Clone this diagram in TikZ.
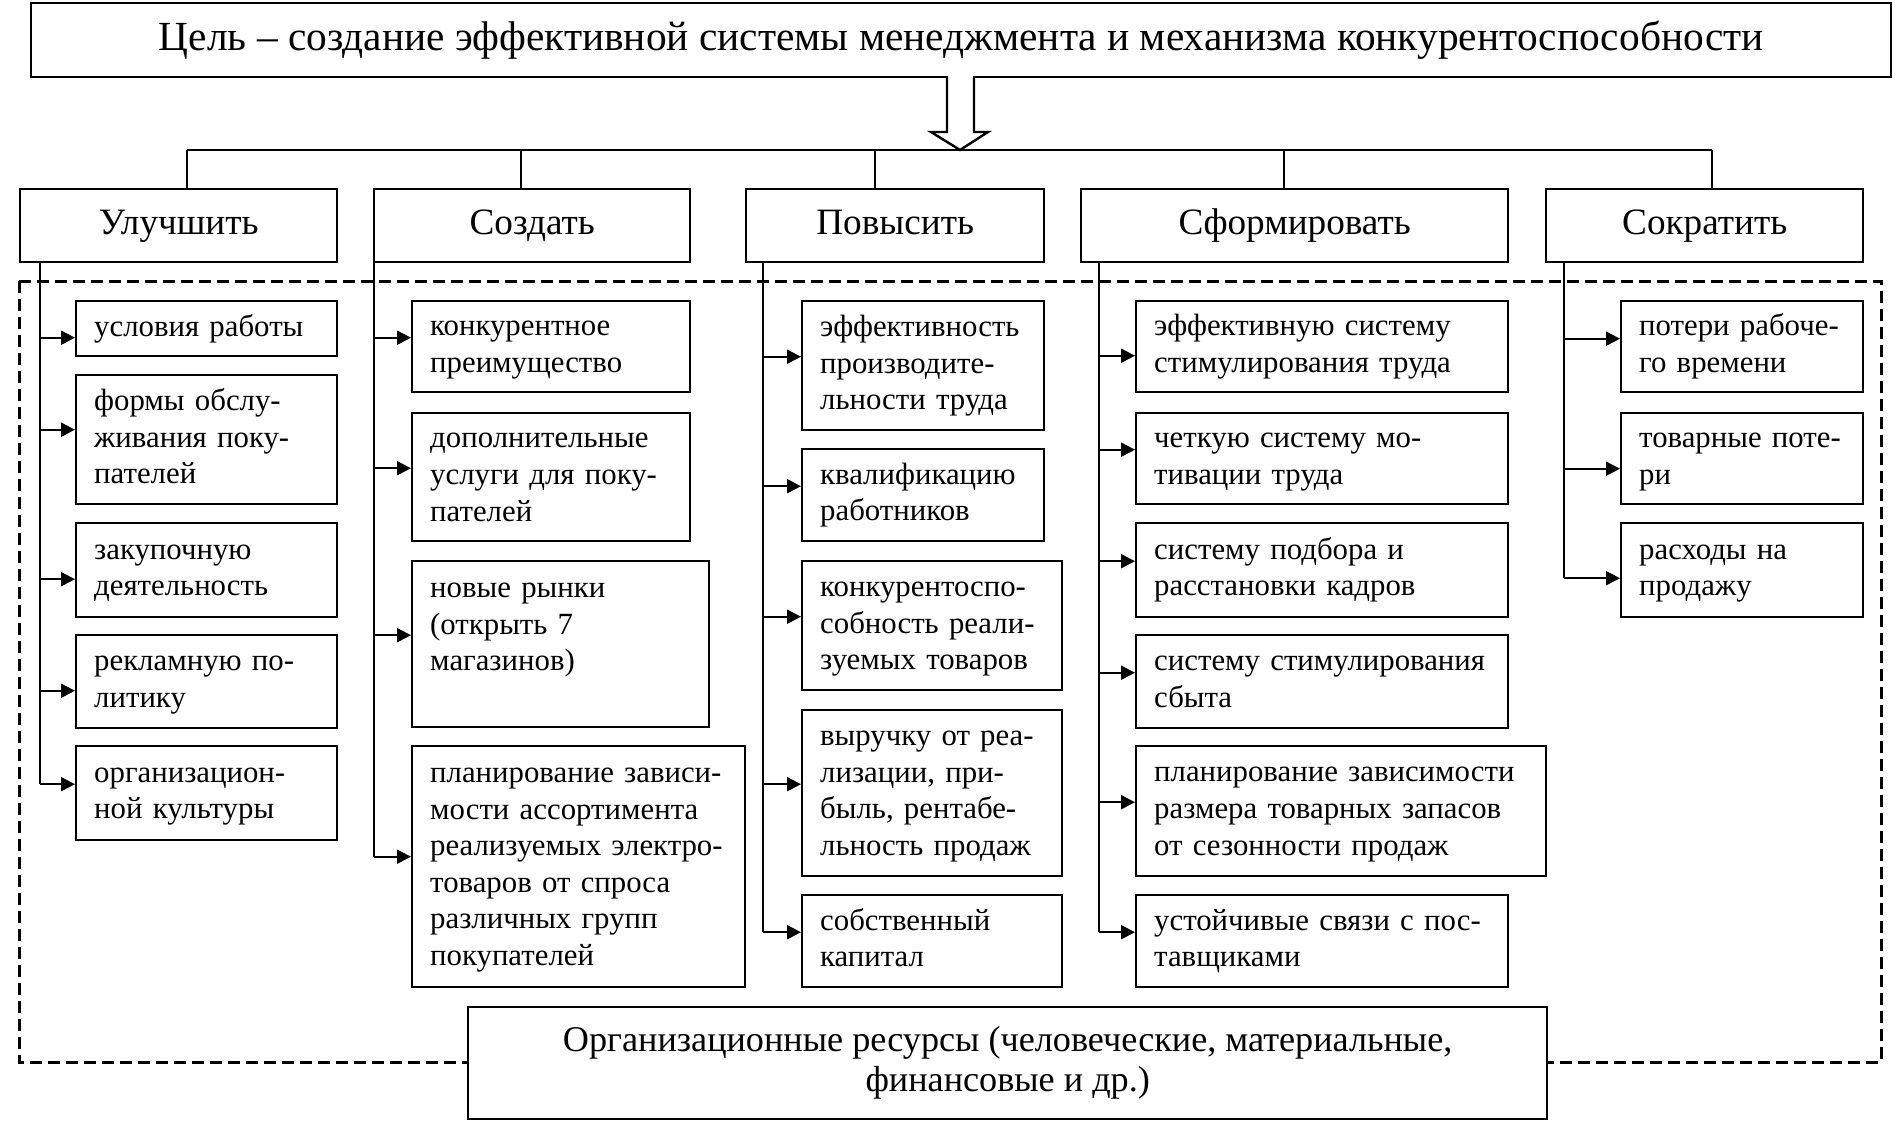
\documentclass[tikz,border=0pt]{standalone}
\usepackage{fontspec}
\setmainfont{Liberation Serif}
\usetikzlibrary{arrows.meta}

\begin{document}
\begin{tikzpicture}[x=0.5pt,y=-0.5pt]

\tikzstyle{goal} = [rectangle, draw=black, line width=1.2pt, anchor=north west, minimum width=930pt, minimum height=37pt, font=\fontsize{20.7}{24}\selectfont]
\tikzstyle{head} = [rectangle, draw=black, line width=1.2pt, anchor=north west, minimum height=36.5pt, execute at begin node=\strut, font=\fontsize{18.6}{22}\selectfont]
\tikzstyle{leaf} = [rectangle, draw=black, line width=1.2pt, anchor=north west, align=left, inner xsep=9pt, inner ysep=3pt, execute at begin node=\strut, execute at end node=\strut, font=\fontsize{15.4}{18.3}\selectfont]
\tikzstyle{res} = [rectangle, draw=black, line width=1.2pt, anchor=north west, fill=white, align=center, font=\fontsize{18.1}{20}\selectfont]
\tikzstyle{arr} = [line width=1pt, -{Triangle[length=7pt,width=7pt]}]

    \useasboundingbox (0,0) rectangle (1900,1136);

    % resources frame
    \draw[line width=1.5pt, dash pattern=on 6pt off 3pt] (19,281) rectangle (1881,1062);

    \node [goal] (goal) at (30,2) {Цель -- создание эффективной системы менеджмента и механизма конкурентоспособности};
    \draw[line width=1.2pt, fill=white] (947,76) -- (947,132) -- (931,132) -- (960,150) -- (988,132) -- (974,132) -- (974,76);

    \node [head, minimum width=158.5pt] (c1) at (19,188) {Улучшить};
    \node [head, minimum width=158pt] (c2) at (373,188) {Создать};
    \node [head, minimum width=149pt] (c3) at (745,188) {Повысить};
    \node [head, minimum width=213.5pt] (c4) at (1080,188) {Сформировать};
    \node [head, minimum width=158.5pt] (c5) at (1545,188) {Сократить};

    \coordinate (b1) at (187,150);
    \coordinate (b2) at (521,150);
    \coordinate (b3) at (875,150);
    \coordinate (b4) at (1284,150);
    \coordinate (b5) at (1712,150);
    \draw[line width=1pt] (b1) -- (b5);
    \foreach \i in {1,...,5}
        \draw[line width=1pt] (b\i) -- (b\i |- c\i.north);

    % Улучшить
    \node [leaf, minimum width=130.5pt, minimum height=27.5pt, text width=112.5pt] (l11) at (75,300) {условия работы};
    \node [leaf, minimum width=130.5pt, minimum height=64.5pt, text width=112.5pt] (l12) at (75,374) {формы обслу-\\живания поку-\\пателей};
    \node [leaf, minimum width=130.5pt, minimum height=47pt, text width=112.5pt] (l13) at (75,522) {закупочную\\деятельность};
    \node [leaf, minimum width=130.5pt, minimum height=46.5pt, text width=112.5pt] (l14) at (75,634) {рекламную по-\\литику};
    \node [leaf, minimum width=130.5pt, minimum height=47pt, text width=112.5pt] (l15) at (75,745) {организацион-\\ной культуры};

    % Создать
    \node [leaf, minimum width=139pt, minimum height=45.5pt, text width=121pt] (l21) at (411,300) {конкурентное\\преимущество};
    \node [leaf, minimum width=139pt, minimum height=64pt, text width=121pt] (l22) at (411,412) {дополнительные\\услуги для поку-\\пателей};
    \node [leaf, minimum width=148.5pt, minimum height=83pt, text width=130.5pt, text depth=59.5pt] (l23) at (411,560) {новые рынки\\(открыть 7\\магазинов)};
    \node [leaf, minimum width=166.5pt, minimum height=120.5pt, text width=148.5pt] (l24) at (411,745) {планирование зависи-\\мости ассортимента\\реализуемых электро-\\товаров от спроса\\различных групп\\покупателей};

    % Повысить
    \node [leaf, minimum width=121pt, minimum height=64.5pt, text width=103pt] (l31) at (801,300) {эффективность\\производите-\\льности труда};
    \node [leaf, minimum width=121pt, minimum height=46pt, text width=103pt] (l32) at (801,448) {квалификацию\\работников};
    \node [leaf, minimum width=130pt, minimum height=64.5pt, text width=112pt] (l33) at (801,560) {конкурентоспо-\\собность реали-\\зуемых товаров};
    \node [leaf, minimum width=130pt, minimum height=83pt, text width=112pt] (l34) at (801,709) {выручку от реа-\\лизации, при-\\быль, рентабе-\\льность продаж};
    \node [leaf, minimum width=130pt, minimum height=46pt, text width=112pt] (l35) at (801,894) {собственный\\капитал};

    % Сформировать
    \node [leaf, minimum width=186pt, minimum height=45.5pt, text width=168pt] (l41) at (1135,300) {эффективную систему\\стимулирования труда};
    \node [leaf, minimum width=186pt, minimum height=45.5pt, text width=168pt] (l42) at (1135,412) {четкую систему мо-\\тивации труда};
    \node [leaf, minimum width=186pt, minimum height=47pt, text width=168pt] (l43) at (1135,522) {систему подбора и\\расстановки кадров};
    \node [leaf, minimum width=186pt, minimum height=46.5pt, text width=168pt] (l44) at (1135,634) {систему стимулирования\\сбыта};
    \node [leaf, minimum width=205pt, minimum height=65pt, text width=187pt] (l45) at (1135,745) {планирование зависимости\\размера товарных запасов\\от сезонности продаж};
    \node [leaf, minimum width=186pt, minimum height=46pt, text width=168pt] (l46) at (1135,894) {устойчивые связи с пос-\\тавщиками};

    % Сократить
    \node [leaf, minimum width=121pt, minimum height=45.5pt, text width=103pt] (l51) at (1620,300) {потери рабоче-\\го времени};
    \node [leaf, minimum width=121pt, minimum height=45.5pt, text width=103pt] (l52) at (1620,412) {товарные поте-\\ри};
    \node [leaf, minimum width=121pt, minimum height=47pt, text width=103pt] (l53) at (1620,522) {расходы на\\продажу};

    \node [res, minimum width=539.5pt, minimum height=56pt] (res) at (467,1006) {Организационные ресурсы (человеческие, материальные,\\финансовые и др.)};

    % spines and arrows
    \path (c1.south west) ++(21,0) coordinate (s1);
    \path (c2.south west) ++(1,0) coordinate (s2);
    \path (c3.south west) ++(18,0) coordinate (s3);
    \path (c4.south west) ++(19,0) coordinate (s4);
    \path (c5.south west) ++(19,0) coordinate (s5);

    \foreach \n/\d in {l11/9,l12/-10,l13/9,l14/9,l15/-9}
        \draw[arr] (\n.west) ++(0,\d) coordinate (t) (s1 |- t) -- (t);
    \draw[line width=1pt] (s1) -- (s1 |- t);
    \foreach \n/\d in {l21/-9,l22/-9,l23/-9,l24/-10}
        \draw[arr] (\n.west) ++(0,\d) coordinate (t) (s2 |- t) -- (t);
    \draw[line width=1pt] (s2) -- (s2 |- t);
    \foreach \n/\d in {l31/-9,l32/-9,l33/-9,l34/-9,l35/-9}
        \draw[arr] (\n.west) ++(0,\d) coordinate (t) (s3 |- t) -- (t);
    \draw[line width=1pt] (s3) -- (s3 |- t);
    \foreach \n/\d in {l41/9,l42/-9,l43/-9,l44/-9,l45/-9,l46/-9}
        \draw[arr] (\n.west) ++(0,\d) coordinate (t) (s4 |- t) -- (t);
    \draw[line width=1pt] (s4) -- (s4 |- t);
    \foreach \n/\d in {l51/-8,l52/10,l53/8}
        \draw[arr] (\n.west) ++(0,\d) coordinate (t) (s5 |- t) -- (t);
    \draw[line width=1pt] (s5) -- (s5 |- t);

\end{tikzpicture}
\end{document}
